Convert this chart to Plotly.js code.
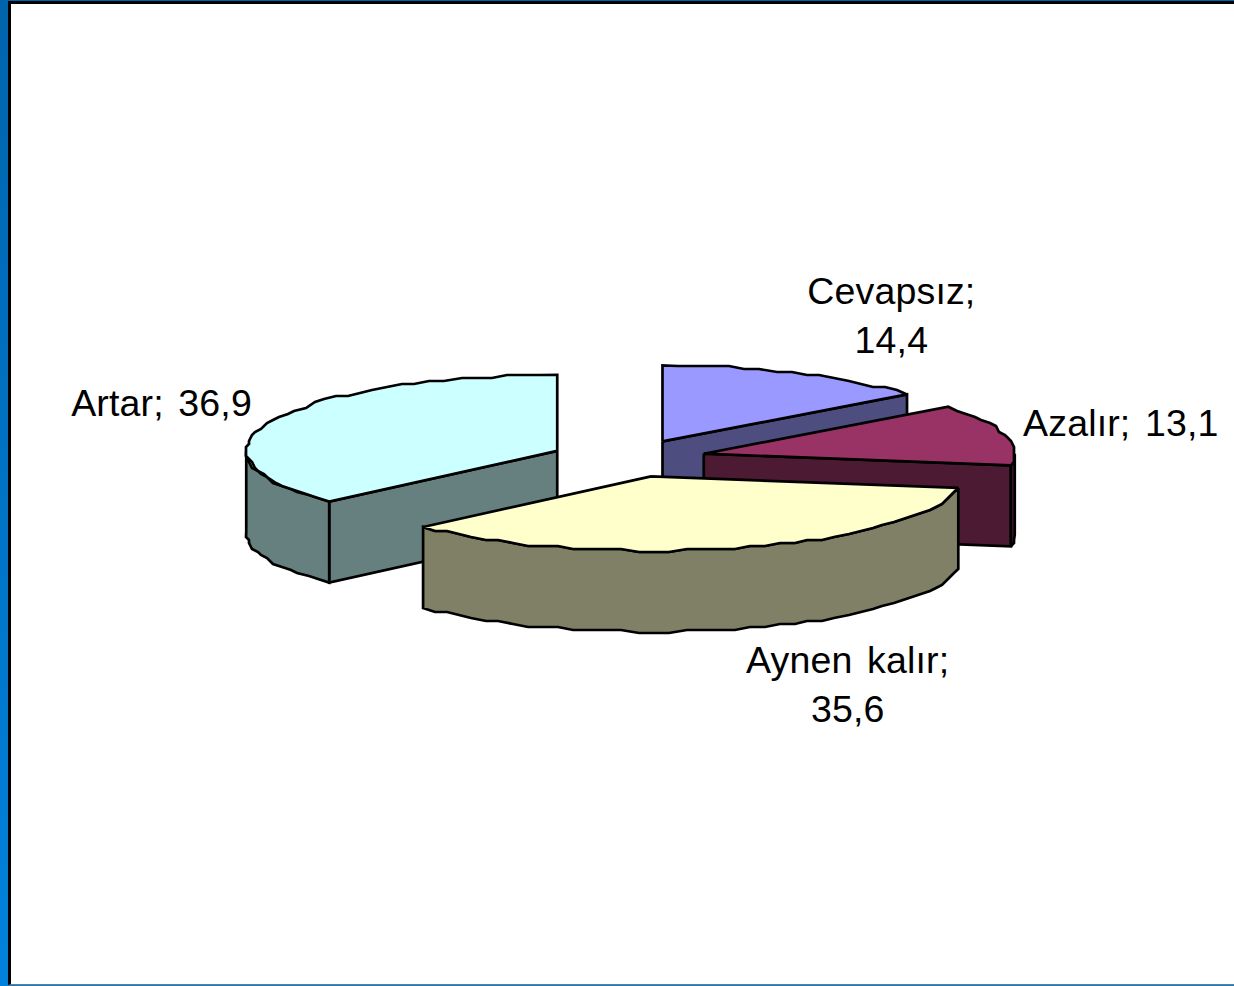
<!DOCTYPE html>
<html><head><meta charset="utf-8">
<script src="https://cdn.plot.ly/plotly-3.0.1.min.js"></script>
<style>
html,body{margin:0;padding:0;width:1234px;height:986px;overflow:hidden;background:linear-gradient(to bottom,#0064ac,#0082dc);}
#frame{position:absolute;left:8px;top:1px;width:1226px;height:984px;box-sizing:border-box;border-left:3px solid #000;border-top:3px solid #000;border-bottom:1px solid #777;background:#fff;}
#chart{position:absolute;left:11px;top:4px;width:1223px;height:980px;}
#chart svg text{letter-spacing:0.15px;word-spacing:4px;}
</style></head><body>
<div id="frame"></div><div id="chart"></div>
<script>
// Data
const categories = ['Cevapsız', 'Azalır', 'Aynen kalır', 'Artar'];
const values = [14.4, 13.1, 35.6, 36.9];
const valueLabels = ['14,4', '13,1', '35,6', '36,9'];

// Colours
const topColors  = ['#9999FF', '#993366', '#FFFFCC', '#CCFFFF'];
const sideColors = ['#4D4D80', '#4D1A33', '#808066', '#668080'];

// 3D projection of the pie
const cx = 628.5, cy = 458.5, rx = 311, ryBack = 76, ryFront = 74.5, depth = 81, explode = 0.25;
const rimStep = 3, jag = 3;
const drawOrder = [0, 1, 3, 2];
const labelBreak = [true, false, true, false];
const labelPos = [[891, 315], [1121, 423], [847, 684], [161, 403]];

const total = values.reduce((a, b) => a + b, 0);
const rad = d => d * Math.PI / 180;
const ryAt = d => Math.cos(rad(d)) > 0 ? ryBack : ryFront;
const pt = (o, d, h) => [o[0] + rx * Math.sin(rad(d)), o[1] - ryAt(d) * Math.cos(rad(d)) + (h || 0)];
function rim(o, a, b, h) {
  const out = [];
  const n = Math.max(1, Math.round((b - a) / rimStep));
  for (let i = 0; i <= n; i++) {
    const p = pt(o, a + (b - a) * i / n, h);
    if (i > 0 && i < n) { p[0] = Math.round(p[0] / jag) * jag; p[1] = Math.round(p[1] / jag) * jag; }
    out.push(p);
  }
  return out;
}
function poly(points, color) {
  return {type: 'scatter', mode: 'lines', fill: 'toself', fillcolor: color,
    x: points.map(p => p[0]).concat(points[0][0]), y: points.map(p => p[1]).concat(points[0][1]),
    line: {color: '#000', width: 2.7, simplify: false}, hoverinfo: 'skip', showlegend: false};
}
let acc = 0;
const slices = values.map(v => {
  const a = acc / total * 360; acc += v; const b = acc / total * 360;
  const m = (a + b) / 2;
  return {a, b, o: [cx + explode * rx * Math.sin(rad(m)), cy - explode * ryAt(m) * Math.cos(rad(m))]};
});
const traces = [];
drawOrder.forEach(i => {
  const s = slices[i];
  const side = sideColors[i];
  const wall = d => [s.o, pt(s.o, d), pt(s.o, d, depth), [s.o[0], s.o[1] + depth]];
  if (Math.sin(rad(s.a)) < -1e-6) traces.push(poly(wall(s.a), side));
  if (Math.sin(rad(s.b)) > 1e-6) traces.push(poly(wall(s.b), side));
  const a = Math.max(s.a, 90), b = Math.min(s.b, 270);
  if (b > a) traces.push(poly(rim(s.o, a, b, 0).concat(rim(s.o, a, b, depth).reverse()), side));
  traces.push(poly([s.o].concat(rim(s.o, s.a, s.b, 0)), topColors[i]));
});

const annotations = categories.map((c, i) => ({
  x: labelPos[i][0], y: labelPos[i][1], xref: 'x', yref: 'y', showarrow: false,
  text: c + ';' + (labelBreak[i] ? '<br>' : ' ') + valueLabels[i],
  align: 'center', xanchor: 'center', yanchor: 'middle',
  font: {family: 'Liberation Sans, Arial, sans-serif', size: 37.5, color: '#000'}
}));

const hidden = {visible: false, fixedrange: true, showgrid: false, zeroline: false};
Plotly.newPlot('chart', traces, {
  width: 1223, height: 980, margin: {l: 0, r: 0, t: 0, b: 0},
  paper_bgcolor: 'rgba(0,0,0,0)', plot_bgcolor: 'rgba(0,0,0,0)', showlegend: false,
  xaxis: Object.assign({range: [11, 1234]}, hidden),
  yaxis: Object.assign({range: [984, 4]}, hidden),
  annotations
}, {displayModeBar: false, staticPlot: true});
</script></body></html>
